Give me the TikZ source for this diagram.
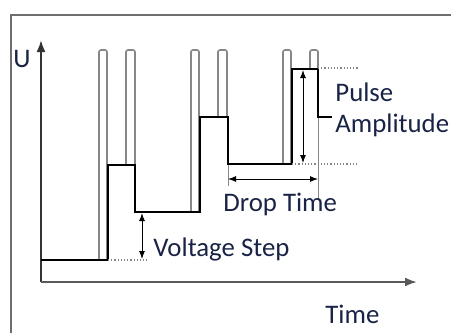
\documentclass[tikz,border=0pt]{standalone}
\usepackage{fontspec}
\setmainfont{Carlito}
\usetikzlibrary{arrows.meta}
\definecolor{framegray}{RGB}{110,110,110}
\definecolor{pulsegray}{RGB}{135,135,135}
\definecolor{labelink}{RGB}{25,35,70}
\tikzset{
  pulse/.style={pulsegray,line width=0.8pt,rounded corners=1pt},
  signal/.style={black,line width=1.2pt},
  dimarrow/.style={{Latex[length=4pt,width=3pt]}-{Latex[length=4pt,width=3pt]},line width=0.5pt},
  guide/.style={pulsegray,densely dotted,line width=0.6pt},
  lbl/.style={font=\fontsize{13.4}{15}\selectfont,text=labelink,inner sep=0pt,anchor=base west}
}
\begin{document}
\begin{tikzpicture}[x=0.5pt,y=-0.5pt]
	\useasboundingbox (0,0) rectangle (451,333);
	% frame
	\draw[framegray,line width=1pt] (11,333) -- (11,15) -- (451,15);
	% axes
	\draw[-{Latex[length=6pt,width=4.5pt]},line width=1pt,black!80] (41,282) -- (41,40);
	\draw[-{Latex[length=6pt,width=4.5pt]},line width=1pt,black!65] (41,282) -- (417,282);
	% pulses
	\draw[pulse] (99,260) -- (99,50) -- (107,50) -- (107,260);
	\draw[pulse] (126,165) -- (126,50) -- (135,50) -- (135,165);
	\draw[pulse] (191,212) -- (191,50) -- (199,50) -- (199,212);
	\draw[pulse] (218,117) -- (218,50) -- (227,50) -- (227,117);
	\draw[pulse] (283,164) -- (283,50) -- (291,50) -- (291,164);
	\draw[pulse] (310,69) -- (310,50) -- (318,50) -- (318,69);
	% staircase
	\draw[signal] (41,260) -- (108,260) -- (108,165) -- (135,165) -- (135,212)
		-- (200,212) -- (200,117) -- (228,117) -- (228,164) -- (292,164)
		-- (292,69) -- (318,69) -- (318,117) -- (332,117);
	% guides
	\draw[guide] (108,260) -- (147,260);
	\draw[guide] (318,68) -- (358,68);
	\draw[guide] (292,164) -- (358,164);
	\draw[pulsegray,line width=0.4pt] (228,165) -- (228,186);
	\draw[pulsegray,line width=0.4pt] (318,118) -- (318,198);
	% dimensions
	\coordinate (vs top) at (142,213);
	\coordinate (vs bot) at (142,259);
	\coordinate (pa top) at (303,70);
	\coordinate (pa bot) at (303,163);
	\coordinate (dt left) at (228,179);
	\coordinate (dt right) at (318,179);
	\draw[dimarrow] (vs top) -- (vs bot);
	\draw[dimarrow] (pa top) -- (pa bot);
	\draw[dimarrow] (dt left) -- (dt right);
	% labels
	\node[lbl] (u) at (13,67) {U};
	\node[lbl] (vstep) at (153,256) {Voltage Step};
	\node[lbl] (drop) at (223,211) {Drop Time};
	\node[lbl] (pulse) at (335,101) {Pulse};
	\node[lbl] (ampl) at (335,132) {Amplitude};
	\node[lbl] (time) at (325,323) {Time};
\end{tikzpicture}
\end{document}
